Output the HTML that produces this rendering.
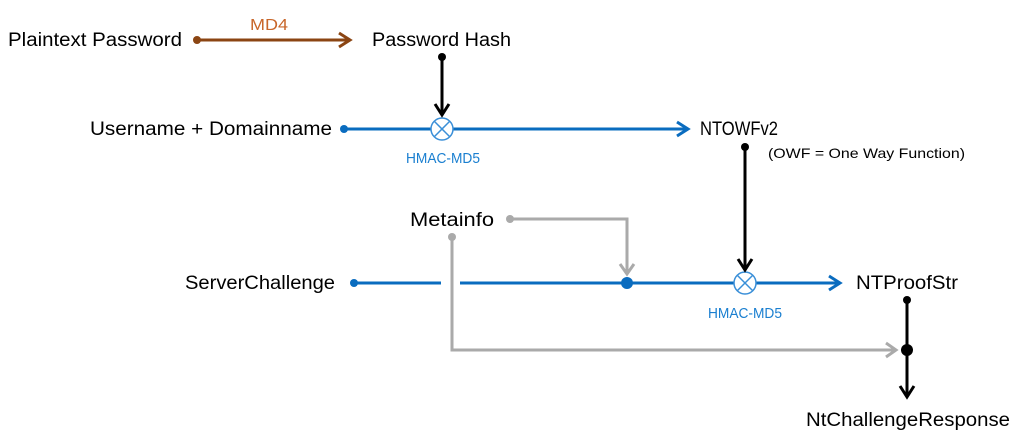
<!DOCTYPE html>
<html><head><style>body{margin:0;background:#fff}svg{display:block}text{font-family:"Liberation Sans",sans-serif}</style></head><body>
<svg width="1024" height="439" viewBox="0 0 1024 439" xmlns="http://www.w3.org/2000/svg">
<g font-size="19" fill="#000">
<text x="8" y="46" textLength="174" lengthAdjust="spacingAndGlyphs">Plaintext Password</text>
<text x="372" y="46" textLength="139" lengthAdjust="spacingAndGlyphs">Password Hash</text>
<text x="90" y="135" textLength="242" lengthAdjust="spacingAndGlyphs">Username + Domainname</text>
<text x="700" y="135" textLength="78" lengthAdjust="spacingAndGlyphs">NTOWFv2</text>
<text x="410" y="226" textLength="84" lengthAdjust="spacingAndGlyphs">Metainfo</text>
<text x="185" y="289" textLength="150" lengthAdjust="spacingAndGlyphs">ServerChallenge</text>
<text x="856" y="289" textLength="102" lengthAdjust="spacingAndGlyphs">NTProofStr</text>
<text x="806" y="426" textLength="204" lengthAdjust="spacingAndGlyphs">NtChallengeResponse</text>
</g>
<text x="768" y="158" font-size="14" textLength="197" lengthAdjust="spacingAndGlyphs">(OWF = One Way Function)</text>
<text x="250" y="30" font-size="16" fill="#c8662a" textLength="38" lengthAdjust="spacingAndGlyphs">MD4</text>
<text x="406" y="163" font-size="15" fill="#1a7fd0" textLength="74" lengthAdjust="spacingAndGlyphs">HMAC-MD5</text>
<text x="708" y="318" font-size="15" fill="#1a7fd0" textLength="74" lengthAdjust="spacingAndGlyphs">HMAC-MD5</text>
<!-- brown -->
<g stroke="#8b4513" stroke-width="3" fill="none">
<line x1="197" y1="40" x2="350" y2="40"/><polyline points="339,33 350,40 339,47"/>
</g><circle cx="197" cy="40" r="4" fill="#8b4513"/>
<!-- blue lines -->
<g stroke="#0a6cbf" stroke-width="3" fill="none">
<line x1="344" y1="129" x2="431" y2="129"/><line x1="453" y1="129" x2="688" y2="129"/><polyline points="677,122 688,129 677,136"/>
<line x1="354" y1="283" x2="441" y2="283"/><line x1="460" y1="283" x2="734" y2="283"/><line x1="756" y1="283" x2="840" y2="283"/><polyline points="829,276 840,283 829,290"/>
</g>
<circle cx="344" cy="129" r="4" fill="#0a6cbf"/><circle cx="354" cy="283" r="4" fill="#0a6cbf"/><circle cx="627" cy="283" r="6" fill="#0a6cbf"/>
<g stroke="#3a8fd8" stroke-width="1.5" fill="#fff">
<circle cx="442" cy="129" r="11"/><line x1="434" y1="121" x2="450" y2="137"/><line x1="450" y1="121" x2="434" y2="137"/>
<circle cx="745" cy="283" r="11"/><line x1="737" y1="275" x2="753" y2="291"/><line x1="753" y1="275" x2="737" y2="291"/>
</g>
<!-- gray -->
<g stroke="#aaa" stroke-width="3" fill="none">
<polyline points="510,219 627,219 627,273"/><polyline points="620,264 627,274 634,264"/>
<polyline points="452,237 452,350 896,350"/><polyline points="886,343 896,350 886,357"/>
</g>
<circle cx="510" cy="219" r="4" fill="#aaa"/><circle cx="452" cy="237" r="4" fill="#aaa"/>
<!-- black -->
<g stroke="#000" stroke-width="3" fill="none">
<line x1="442" y1="57" x2="442" y2="115"/><polyline points="435,104 442,115 449,104"/>
<line x1="745" y1="147" x2="745" y2="270"/><polyline points="738,259 745,270 752,259"/>
<line x1="907" y1="300" x2="907" y2="397"/><polyline points="900,386 907,397 914,386"/>
</g>
<circle cx="442" cy="57" r="4"/><circle cx="745" cy="147" r="4"/><circle cx="907" cy="300" r="4"/><circle cx="907" cy="350" r="6"/>
</svg>
</body></html>
